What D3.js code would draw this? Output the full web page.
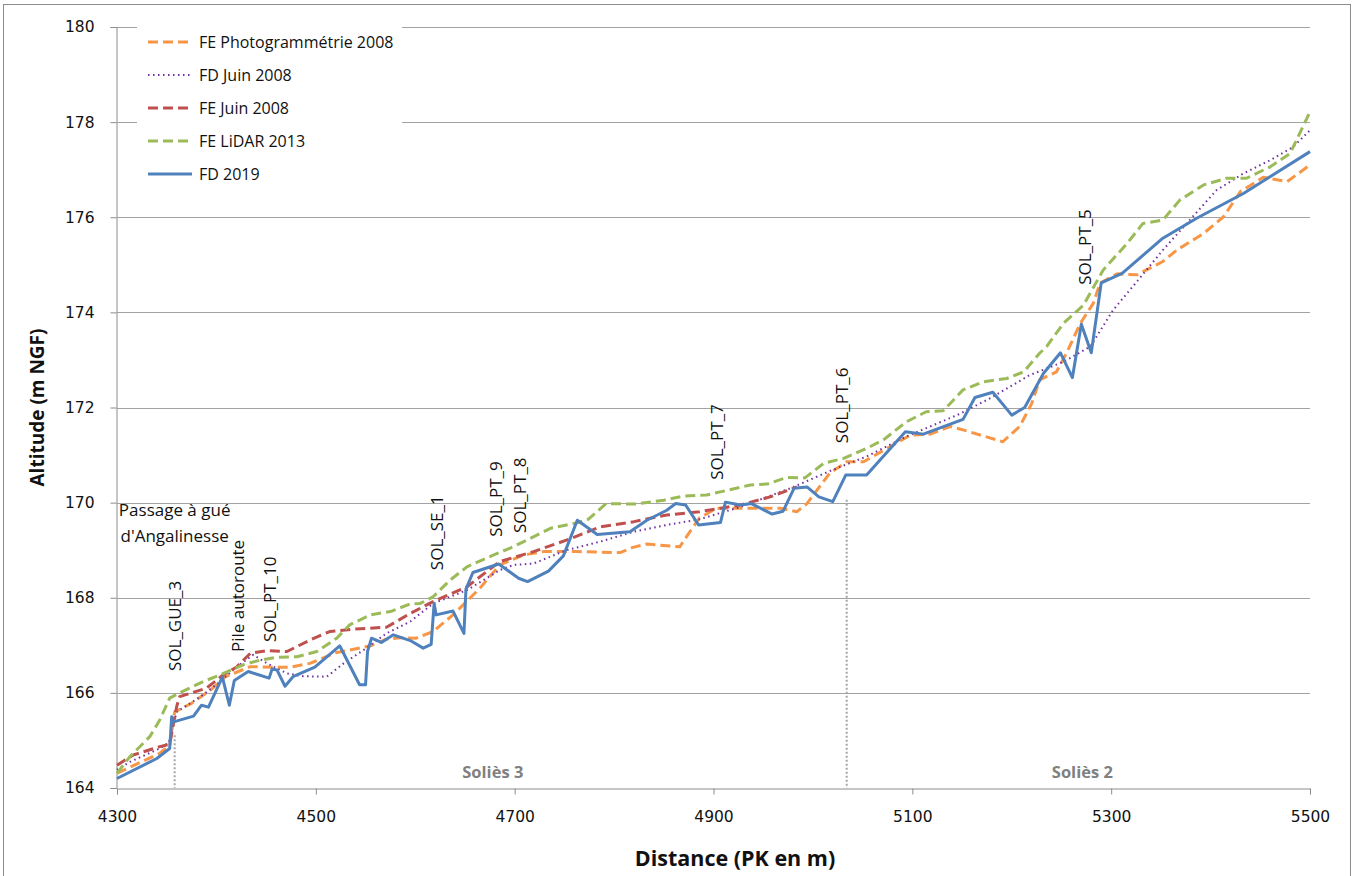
<!DOCTYPE html>
<html>
<head>
<meta charset="utf-8">
<script src="https://cdn.jsdelivr.net/npm/d3@7"></script>
<style>
  body { margin: 0; background: #fff; }
  text { font-family: "Open Sans", "Liberation Sans", sans-serif; }
</style>
</head>
<body>
<svg></svg>
<script>
const width = 1355;
const height = 876;
const margin = { top: 27, right: 45, bottom: 88, left: 117 };

// FD 2019
const pk2019 = [4300, 4340, 4353, 4355, 4357, 4377, 4385, 4392, 4406, 4413, 4418, 4432, 4453, 4456, 4461, 4469, 4477, 4499, 4524, 4544, 4550, 4552, 4556, 4566, 4578, 4595, 4608, 4616, 4619, 4621, 4638, 4649, 4651, 4658, 4684, 4704, 4713, 4734, 4749, 4763, 4783, 4816, 4833, 4853, 4862, 4872, 4885, 4907, 4912, 4927, 4938, 4959, 4970, 4981, 4994, 5006, 5020, 5033, 5054, 5093, 5111, 5151, 5163, 5181, 5200, 5213, 5232, 5249, 5261, 5270, 5280, 5290, 5311, 5352, 5386, 5433, 5500];
const alt2019 = [164.20, 164.62, 164.83, 165.50, 165.39, 165.51, 165.74, 165.70, 166.33, 165.74, 166.26, 166.45, 166.31, 166.50, 166.48, 166.14, 166.34, 166.54, 166.99, 166.17, 166.17, 166.87, 167.15, 167.06, 167.22, 167.10, 166.94, 167.02, 167.88, 167.64, 167.72, 167.25, 168.18, 168.53, 168.71, 168.41, 168.34, 168.56, 168.88, 169.63, 169.33, 169.39, 169.63, 169.84, 169.98, 169.95, 169.53, 169.58, 170.01, 169.95, 169.98, 169.76, 169.82, 170.30, 170.33, 170.12, 170.02, 170.58, 170.58, 171.49, 171.44, 171.75, 172.21, 172.32, 171.84, 172.00, 172.72, 173.15, 172.63, 173.75, 173.15, 174.62, 174.82, 175.56, 175.98, 176.50, 177.38];

// FE Photogrammétrie 2008
const pkPhoto = [4300, 4343, 4353, 4358, 4375, 4394, 4409, 4434, 4457, 4474, 4494, 4521, 4534, 4555, 4571, 4585, 4601, 4618, 4638, 4665, 4685, 4709, 4729, 4762, 4806, 4819, 4833, 4866, 4876, 4886, 4903, 4930, 4967, 4984, 4994, 5017, 5034, 5051, 5078, 5098, 5118, 5138, 5151, 5191, 5208, 5220, 5228, 5245, 5255, 5269, 5282, 5289, 5306, 5326, 5352, 5366, 5393, 5413, 5430, 5453, 5477, 5500];
const altPhoto = [164.31, 164.73, 164.90, 165.60, 165.78, 166.06, 166.34, 166.55, 166.54, 166.54, 166.62, 166.85, 166.90, 166.99, 167.13, 167.16, 167.15, 167.29, 167.64, 168.20, 168.69, 168.90, 168.97, 168.97, 168.95, 169.06, 169.13, 169.07, 169.38, 169.68, 169.88, 169.88, 169.88, 169.81, 169.98, 170.62, 170.86, 170.86, 171.18, 171.42, 171.44, 171.60, 171.53, 171.28, 171.60, 172.08, 172.58, 172.75, 173.14, 173.77, 174.19, 174.62, 174.81, 174.79, 175.07, 175.31, 175.66, 176.01, 176.54, 176.84, 176.75, 177.10];

// FD Juin 2008
const pkFdJuin = [4300, 4313, 4343, 4352, 4360, 4384, 4404, 4420, 4437, 4451, 4471, 4487, 4511, 4528, 4548, 4571, 4595, 4618, 4652, 4685, 4699, 4719, 4752, 4786, 4820, 4853, 4886, 4927, 4977, 5020, 5054, 5094, 5145, 5178, 5218, 5252, 5279, 5302, 5326, 5352, 5379, 5406, 5433, 5460, 5483, 5500];
const altFdJuin = [164.38, 164.55, 164.83, 164.95, 165.60, 165.92, 166.24, 166.54, 166.80, 166.62, 166.41, 166.35, 166.34, 166.62, 166.90, 167.25, 167.50, 167.88, 168.16, 168.58, 168.69, 168.72, 169.00, 169.18, 169.39, 169.53, 169.65, 169.91, 170.30, 170.69, 170.97, 171.39, 171.84, 172.19, 172.68, 172.96, 173.28, 174.05, 174.65, 175.31, 175.94, 176.57, 176.92, 177.20, 177.48, 177.83];

// FE Juin 2008
const pkFeJuin = [4300, 4316, 4343, 4353, 4360, 4363, 4390, 4407, 4420, 4434, 4451, 4471, 4494, 4514, 4538, 4571, 4595, 4618, 4652, 4685, 4719, 4752, 4786, 4820, 4853, 4886, 4927, 4957, 4984];
const altFeJuin = [164.48, 164.69, 164.87, 164.92, 165.71, 165.92, 166.10, 166.38, 166.54, 166.83, 166.89, 166.87, 167.11, 167.29, 167.34, 167.38, 167.67, 167.92, 168.23, 168.76, 168.97, 169.21, 169.49, 169.60, 169.74, 169.81, 169.95, 170.12, 170.33];

// FE LiDAR 2013
const pkLidar = [4300, 4313, 4333, 4343, 4353, 4363, 4387, 4404, 4427, 4444, 4461, 4481, 4501, 4521, 4534, 4555, 4575, 4595, 4605, 4618, 4635, 4652, 4679, 4695, 4712, 4736, 4762, 4774, 4792, 4820, 4850, 4870, 4893, 4937, 4954, 4974, 4992, 5011, 5031, 5054, 5071, 5094, 5114, 5131, 5151, 5171, 5195, 5212, 5228, 5235, 5252, 5272, 5292, 5316, 5332, 5352, 5369, 5393, 5416, 5436, 5460, 5480, 5500];
const altLidar = [164.31, 164.66, 165.08, 165.43, 165.89, 166.00, 166.24, 166.38, 166.59, 166.69, 166.75, 166.76, 166.87, 167.15, 167.43, 167.64, 167.71, 167.87, 167.88, 168.02, 168.37, 168.65, 168.90, 169.04, 169.21, 169.46, 169.57, 169.65, 169.98, 169.97, 170.05, 170.14, 170.16, 170.37, 170.39, 170.53, 170.52, 170.83, 170.93, 171.14, 171.32, 171.70, 171.91, 171.93, 172.37, 172.54, 172.61, 172.75, 173.14, 173.28, 173.77, 174.15, 174.89, 175.45, 175.87, 175.94, 176.36, 176.68, 176.82, 176.82, 177.06, 177.34, 178.22];

const xTicks = [4300, 4500, 4700, 4900, 5100, 5300, 5500];
const yTicks = [164, 166, 168, 170, 172, 174, 176, 178, 180];

// repères verticaux (nom, PK, altitude du pied du texte)
const markNames = ["SOL_GUE_3", "Pile autoroute", "SOL_PT_10", "SOL_SE_1", "SOL_PT_9", "SOL_PT_8", "SOL_PT_7", "SOL_PT_6", "SOL_PT_5"];
const markPk = [4358, 4422, 4454, 4622, 4681, 4705, 4904, 5029, 5274];
const markAlt = [166.46, 166.86, 167.07, 168.58, 169.28, 169.36, 170.48, 171.25, 174.58];

// limites des secteurs (traits pointillés gris)
const limitPk = [4358, 5034];
const limitAlt = [165.11, 170.06];
const sectorNames = ["Soliès 3", "Soliès 2"];
const sectorPk = [4678, 5271];

let svg = d3.select("svg")
    .attr("width", width)
    .attr("height", height);

// cadre
svg.append("rect").attr("x", 3.5).attr("y", 4.5).attr("width", 1347).attr("height", 880)
    .style("fill", "none").style("stroke", "#8c8c8c").style("stroke-width", 1);

const x = d3.scaleLinear().domain([4300, 5500]).range([margin.left, width - margin.right]);
const y = d3.scaleLinear().domain([164, 180]).range([height - margin.bottom, margin.top]);

// grille horizontale
svg.append("g")
    .selectAll("line")
    .data(yTicks.slice(1))
    .join("line")
    .attr("x1", x(4300)).attr("x2", x(5500))
    .attr("y1", d => Math.round(y(d)) + 0.5).attr("y2", d => Math.round(y(d)) + 0.5)
    .style("stroke", "#a3a3a3").style("stroke-width", 1);

// axes
let xAxis = svg.append("g")
    .attr("transform", `translate(0, ${Math.round(y(164)) + 0.5})`)
    .call(d3.axisBottom(x).tickValues(xTicks).tickSize(6).tickPadding(16).tickFormat(d3.format("d")));
let yAxis = svg.append("g")
    .attr("transform", `translate(${Math.round(x(4300)) - 0.5}, 0)`)
    .call(d3.axisLeft(y).tickValues(yTicks).tickSize(6).tickPadding(16).tickFormat(d3.format("d")));
[xAxis, yAxis].forEach(a => {
    a.select(".domain").style("stroke", "#8c8c8c");
    a.selectAll(".tick line").style("stroke", "#8c8c8c");
    a.selectAll(".tick text").style("fill", "#111").style("font-size", "15.5px")
        .style("font-family", "DejaVu Sans, sans-serif");
});

// courbes
const series = [
    { name: "FE Photogrammétrie 2008", pk: pkPhoto, alt: altPhoto, color: "#F79646", w: 3, dash: "10,5" },
    { name: "FD Juin 2008", pk: pkFdJuin, alt: altFdJuin, color: "#7030A0", w: 2, dash: "1.5,3.5" },
    { name: "FE Juin 2008", pk: pkFeJuin, alt: altFeJuin, color: "#C0504D", w: 3, dash: "10,5" },
    { name: "FE LiDAR 2013", pk: pkLidar, alt: altLidar, color: "#9BBB59", w: 3, dash: "10,5" },
    { name: "FD 2019", pk: pk2019, alt: alt2019, color: "#4F81BD", w: 3, dash: null }
];

const line = d3.line()
    .x(d => x(d[0]))
    .y(d => y(d[1]));

// traits limites
svg.append("g").selectAll("line")
    .data(limitPk)
    .join("line")
    .attr("x1", d => x(d)).attr("x2", d => x(d))
    .attr("y1", (d, i) => y(limitAlt[i])).attr("y2", y(164))
    .style("stroke", "#a6a6a6").style("stroke-width", 2).style("stroke-dasharray", "2,2");

series.forEach(s => {
    svg.append("path")
        .attr("d", line(d3.zip(s.pk, s.alt)))
        .style("fill", "none")
        .style("stroke", s.color)
        .style("stroke-width", s.w)
        .style("stroke-linejoin", "round")
        .style("stroke-dasharray", s.dash);
});

// légende
let legend = svg.append("g");
legend.append("rect").attr("x", 137).attr("y", 20).attr("width", 265).attr("height", 172).style("fill", "#fff");
series.forEach((s, i) => {
    let ly = 42 + i * 33;
    legend.append("line")
        .attr("x1", 148).attr("x2", 192).attr("y1", ly).attr("y2", ly)
        .style("stroke", s.color).style("stroke-width", s.w).style("stroke-dasharray", s.dash);
    legend.append("text").attr("x", 199).attr("y", ly).attr("dy", "0.35em")
        .style("font-size", "16px").style("fill", "#111").text(s.name);
});

// annotations verticales
markNames.forEach((m, i) => {
    svg.append("text")
        .attr("transform", `translate(${x(markPk[i])}, ${y(markAlt[i])}) rotate(-90)`)
        .attr("dy", "0.35em")
        .style("font-size", "17px").style("fill", "#111")
        .text(m);
});

let gue = svg.append("text")
    .attr("text-anchor", "middle")
    .style("font-size", "17px").style("fill", "#111");
gue.append("tspan").attr("x", x(4358)).attr("y", y(169.72)).text("Passage à gué");
gue.append("tspan").attr("x", x(4358)).attr("y", y(169.17)).text("d'Angalinesse");

sectorNames.forEach((n, i) => {
    svg.append("text")
        .attr("x", x(sectorPk[i])).attr("y", y(164.34)).attr("dy", "0.35em")
        .attr("text-anchor", "middle")
        .style("font-size", "16.5px").style("font-weight", "bold").style("fill", "#808080")
        .text(n);
});

// titres des axes
svg.append("text")
    .attr("x", 735).attr("y", 858).attr("dy", "0.35em")
    .attr("text-anchor", "middle")
    .style("font-size", "21.5px").style("font-weight", "bold").style("fill", "#111")
    .text("Distance (PK en m)");
svg.append("text")
    .attr("transform", `translate(37, ${(y(164) + y(180)) / 2}) rotate(-90)`)
    .attr("dy", "0.35em")
    .attr("text-anchor", "middle")
    .style("font-size", "19px").style("font-weight", "bold").style("fill", "#111")
    .text("Altitude (m NGF)");
</script>
</body>
</html>
